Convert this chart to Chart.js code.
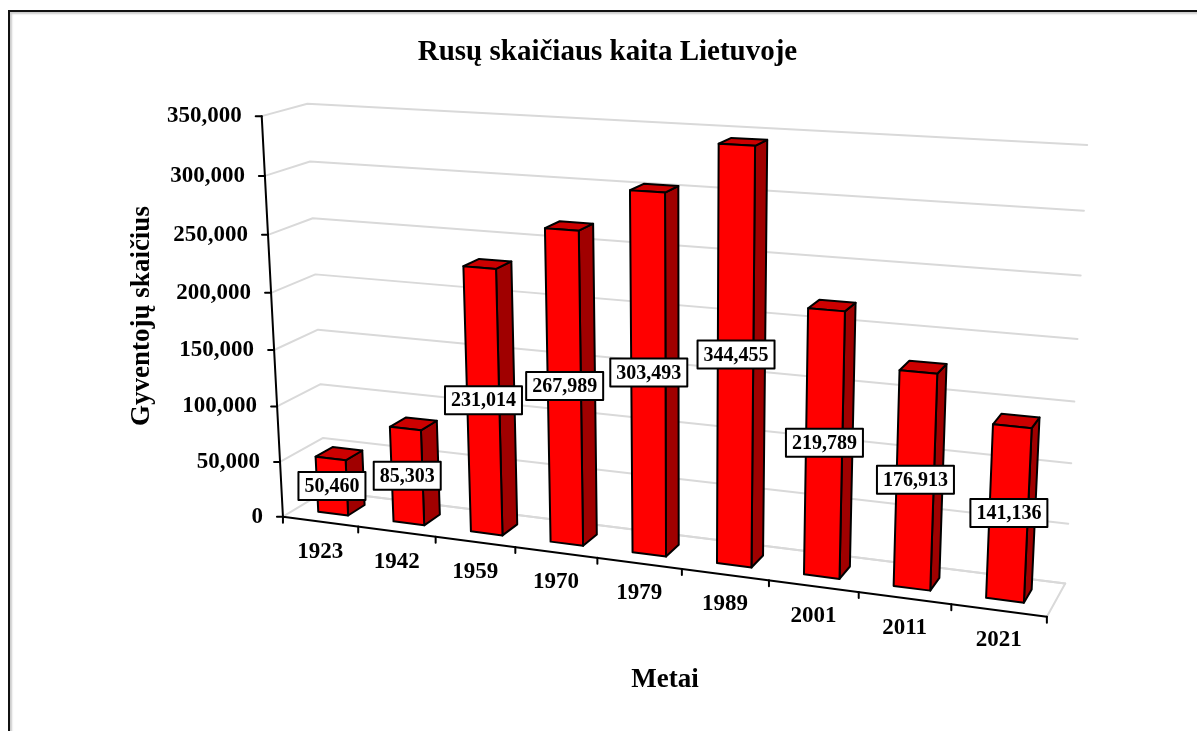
<!DOCTYPE html>
<html>
<head>
<meta charset="utf-8">
<style>
  html, body { margin: 0; padding: 0; background: #fff; overflow: hidden; }
  #wrap { position: relative; width: 1197px; height: 731px; overflow: hidden; }
  #frame { position: absolute; left: 8px; top: 10px; width: 1400px; height: 1000px;
           border: 2px solid #111; box-shadow: inset 2px 2px 2px #ccc; }
  canvas { position: absolute; left: 0; top: 0; }
</style>
<script src="https://cdn.jsdelivr.net/npm/chart.js@4"></script>
</head>
<body>
<div id="wrap">
  <div id="frame"></div>
  <canvas id="container" width="1197" height="731"></canvas>
</div>
<script>
const YEARS = ["1923", "1942", "1959", "1970", "1979", "1989", "2001", "2011", "2021"];
const RUSSIANS = [50460, 85303, 231014, 267989, 303493, 344455, 219789, 176913, 141136];

const Y_MAX = 350000;
const Y_STEP = 50000;

const TITLE = "Rusų skaičiaus kaita Lietuvoje";
const Y_TITLE = "Gyventojų skaičius";
const X_TITLE = "Metai";

const SERIF = "'Liberation Serif', 'Times New Roman', serif";
const GRID = "#d9d9d9";

// bars stand in this slice of the floor depth
const BAR_FRONT = 0.3;
const BAR_BACK = 0.7;

// camera calibration: [across, up, depth] -> where the plot box lands on screen
const BOX_POINTS = [
  [0, 0, 0, 283, 516], [0, 1, 0, 262, 116], [1, 0, 0, 1047, 617],
  [1 / 9, 0, 0, 358, 527], [8 / 9, 0, 0, 951, 605],
  [0, 6 / 7, 0, 265, 176], [0, 5 / 7, 0, 268, 235], [0, 1 / 7, 0, 280, 461],
  [0, 0, 1, 326, 492], [0, 1, 1, 307, 104], [0, 6 / 7, 1, 310, 161], [0, 1 / 7, 1, 323, 438],
  [1, 0, 1, 1065, 582], [1, 1, 1, 1087, 145], [1, 6 / 7, 1, 1084, 211],
  [1, 1 / 7, 1, 1068, 524], [1, 2 / 7, 1, 1072, 463],
];

const fit_camera = (points) => {
  const n = 11;
  const m = Array.from({ length: n }, () => new Array(n + 1).fill(0));
  const add_row = (row, rhs) => {
    for (let i = 0; i < n; i++) {
      for (let j = 0; j < n; j++) m[i][j] += row[i] * row[j];
      m[i][n] += row[i] * rhs;
    }
  };
  points.forEach(([u, v, d, px, py]) => {
    const x = px / 1000;
    const y = py / 1000;
    add_row([1, u, v, d, 0, 0, 0, 0, -x * u, -x * v, -x * d], x);
    add_row([0, 0, 0, 0, 1, u, v, d, -y * u, -y * v, -y * d], y);
  });
  for (let c = 0; c < n; c++) {
    let best = c;
    for (let r = c + 1; r < n; r++) if (Math.abs(m[r][c]) > Math.abs(m[best][c])) best = r;
    [m[c], m[best]] = [m[best], m[c]];
    for (let r = 0; r < n; r++) {
      if (r === c) continue;
      const f = m[r][c] / m[c][c];
      for (let k = c; k <= n; k++) m[r][k] -= f * m[c][k];
    }
  }
  return m.map((row, i) => row[n] / row[i]);
};

const CAM = fit_camera(BOX_POINTS);

const project = (u, v, d) => {
  const w = 1 + CAM[8] * u + CAM[9] * v + CAM[10] * d;
  return [
    (1000 * (CAM[0] + CAM[1] * u + CAM[2] * v + CAM[3] * d)) / w,
    (1000 * (CAM[4] + CAM[5] * u + CAM[6] * v + CAM[7] * d)) / w,
  ];
};

const path = (ctx, pts, close) => {
  ctx.beginPath();
  pts.forEach((p, i) => (i ? ctx.lineTo(p[0], p[1]) : ctx.moveTo(p[0], p[1])));
  if (close) ctx.closePath();
};

const draw_text = (ctx, text, x, y, font, align) => {
  ctx.font = font;
  ctx.fillStyle = "#000";
  ctx.textAlign = align || "center";
  ctx.textBaseline = "middle";
  ctx.fillText(text, x, y);
};

const box3d = {
  id: "box3d",
  beforeDatasetsDraw(chart) {
    const { ctx, chartArea: area, scales } = chart;
    const toU = (px) => (px - area.left) / area.width;
    const toV = (py) => (area.bottom - py) / area.height;
    const yScale = scales.y;
    const xScale = scales.x;
    const fmt = (n) => n.toLocaleString("en-US");

    ctx.save();
    ctx.lineCap = "round";
    ctx.lineJoin = "round";

    // walls and floor
    ctx.strokeStyle = GRID;
    ctx.lineWidth = 2;
    yScale.ticks.forEach((t) => {
      const v = toV(yScale.getPixelForValue(t.value));
      path(ctx, [project(0, v, 0), project(0, v, 1), project(1, v, 1)]);
      ctx.stroke();
    });
    path(ctx, [project(0, 0, 1), project(1, 0, 1), project(1, 0, 0)]);
    ctx.stroke();

    // axes
    ctx.strokeStyle = "#000";
    path(ctx, [project(0, 1, 0), project(0, 0, 0), project(1, 0, 0)]);
    ctx.stroke();
    ctx.textBaseline = "middle";
    yScale.ticks.forEach((t) => {
      const p = project(0, toV(yScale.getPixelForValue(t.value)), 0);
      path(ctx, [[p[0] - 6, p[1]], p]);
      ctx.stroke();
      draw_text(ctx, fmt(t.value), p[0] - 20, p[1], "bold 23px " + SERIF, "right");
    });
    const edge = xScale.width / YEARS.length;
    for (let i = 0; i <= YEARS.length; i++) {
      const p = project(toU(area.left + i * edge), 0, 0);
      path(ctx, [p, [p[0], p[1] + 6]]);
      ctx.stroke();
    }
    YEARS.forEach((year, i) => {
      const p = project(toU(xScale.getPixelForValue(i)), 0, 0);
      draw_text(ctx, year, p[0], p[1] + 30, "bold 23px " + SERIF);
    });

    // bars
    const meta = chart.getDatasetMeta(0);
    meta.data.forEach((bar) => {
      const u0 = toU(bar.x - bar.width / 2);
      const u1 = toU(bar.x + bar.width / 2);
      const v0 = toV(bar.base);
      const v1 = toV(bar.y);
      const f = BAR_FRONT;
      const b = BAR_BACK;
      ctx.strokeStyle = "#000";
      ctx.lineWidth = 2;
      ctx.fillStyle = "#a00000";
      path(ctx, [project(u1, v0, f), project(u1, v0, b), project(u1, v1, b), project(u1, v1, f)], true);
      ctx.fill();
      ctx.stroke();
      ctx.fillStyle = "#cc0000";
      path(ctx, [project(u0, v1, f), project(u0, v1, b), project(u1, v1, b), project(u1, v1, f)], true);
      ctx.fill();
      ctx.stroke();
      ctx.fillStyle = "#ff0000";
      path(ctx, [project(u0, v0, f), project(u1, v0, f), project(u1, v1, f), project(u0, v1, f)], true);
      ctx.fill();
      ctx.stroke();
    });

    // value labels sit on the middle of the front face
    meta.data.forEach((bar, i) => {
      const a = project(toU(bar.x - bar.width / 2), toV(bar.base), BAR_FRONT);
      const c = project(toU(bar.x + bar.width / 2), toV(bar.y), BAR_FRONT);
      const text = fmt(RUSSIANS[i]);
      ctx.font = "bold 20px " + SERIF;
      const w = ctx.measureText(text).width + 12;
      const h = 28;
      const cx = (a[0] + c[0]) / 2;
      const cy = (a[1] + c[1]) / 2;
      ctx.fillStyle = "#fff";
      ctx.strokeStyle = "#000";
      ctx.lineWidth = 2;
      ctx.fillRect(cx - w / 2, cy - h / 2, w, h);
      ctx.strokeRect(cx - w / 2, cy - h / 2, w, h);
      draw_text(ctx, text, cx, cy + 1, "bold 20px " + SERIF);
    });

    // axis titles
    draw_text(ctx, xScale.options.title.text, 665, 680, "bold 27px " + SERIF);
    ctx.translate(142, 316);
    ctx.rotate(-Math.PI / 2);
    draw_text(ctx, yScale.options.title.text, 0, 0, "bold 27px " + SERIF);
    ctx.restore();
    return false;
  },
};

new Chart(document.getElementById("container"), {
  type: "bar",
  data: {
    labels: YEARS,
    datasets: [{ label: Y_TITLE, data: RUSSIANS, backgroundColor: "#ff0000", barPercentage: 0.4, categoryPercentage: 1 }],
  },
  options: {
    responsive: false,
    animation: false,
    layout: { padding: { left: 18 } },
    plugins: {
      legend: { display: false },
      tooltip: { enabled: false },
      title: {
        display: true,
        text: TITLE,
        color: "#000",
        font: { family: SERIF, size: 29, weight: "bold" },
        padding: { top: 35, bottom: 10 },
      },
    },
    scales: {
      x: { display: false, title: { text: X_TITLE } },
      y: { display: false, min: 0, max: Y_MAX, ticks: { stepSize: Y_STEP }, title: { text: Y_TITLE } },
    },
  },
  plugins: [box3d],
});
</script>
</body>
</html>
